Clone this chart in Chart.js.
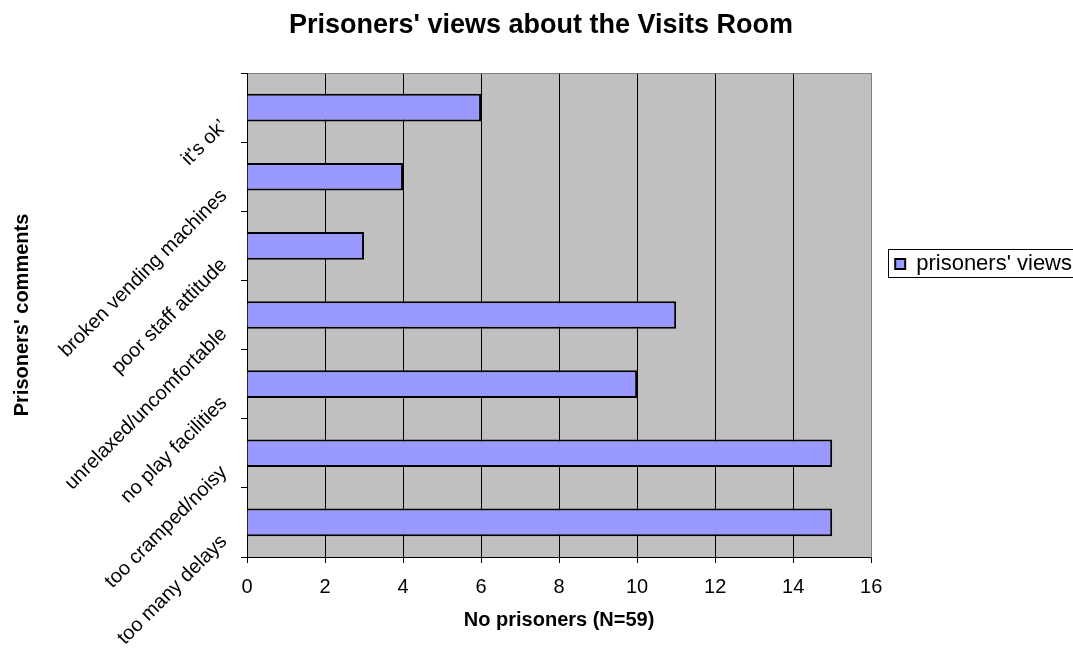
<!DOCTYPE html>
<html>
<head>
<meta charset="utf-8">
<title>Prisoners' views about the Visits Room</title>
<script src="https://cdn.jsdelivr.net/npm/chart.js@4.4.1/dist/chart.umd.min.js"></script>
<style>
  html, body { margin: 0; padding: 0; background: #fff; overflow: hidden; }
  #wrap { width: 1073px; height: 649px; position: relative; }
</style>
</head>
<body>
<div id="wrap"><canvas id="chart"></canvas></div>
<script>
// categories, top to bottom as in the original chart
const comments = [
  "it's ok\u2019",
  "broken vending machines",
  "poor staff attitude",
  "unrelaxed/uncomfortable",
  "no play facilities",
  "too cramped/noisy",
  "too many delays"
];
const prisonerCounts = [6, 4, 3, 11, 10, 15, 15];
const countTicks = [0, 2, 4, 6, 8, 10, 12, 14, 16];
const seriesName = "prisoners' views";

Chart.defaults.font.family = "'Liberation Sans', Arial, sans-serif";
Chart.defaults.color = "#000";

// grey plot area + box around the legend entry
const plotFrame = {
  id: "plotFrame",
  beforeDraw(chart) {
    const { ctx, chartArea: a } = chart;
    ctx.save();
    ctx.fillStyle = "#fff";
    ctx.fillRect(0, 0, chart.width, chart.height);
    ctx.fillStyle = "#c0c0c0";
    ctx.fillRect(a.left, a.top, a.right - a.left, a.bottom - a.top);
    ctx.restore();
  },
  afterDraw(chart) {
    const hb = chart.legend && chart.legend.legendHitBoxes && chart.legend.legendHitBoxes[0];
    if (!hb) return;
    const ctx = chart.ctx;
    ctx.save();
    ctx.strokeStyle = "#000";
    ctx.lineWidth = 1;
    ctx.strokeRect(Math.round(hb.left - 7) + 0.5, Math.round(hb.top - 4) + 0.5, chart.width, 28);
    ctx.restore();
  }
};

new Chart(document.getElementById("chart"), {
  type: "bar",
  data: {
    labels: comments,
    datasets: [{
      label: seriesName,
      data: prisonerCounts,
      backgroundColor: "#9999ff",
      borderColor: "#000",
      borderWidth: 2,
      barPercentage: 0.4,
      categoryPercentage: 1.0
    }]
  },
  options: {
    indexAxis: "y",
    responsive: true,
    maintainAspectRatio: false,
    animation: false,
    layout: { padding: { left: 0, right: -9, top: 0, bottom: 0 } },
    plugins: {
      title: {
        display: true,
        text: "Prisoners' views about the Visits Room",
        font: { size: 27, weight: "bold" },
        color: "#000",
        padding: { top: 9, bottom: 31.6 }
      },
      legend: {
        position: "right",
        align: "start",
        title: { display: true, text: "", font: { size: 10, lineHeight: 1 }, padding: { top: 219, bottom: 0 } },
        labels: {
          boxWidth: 10,
          boxHeight: 10,
          padding: 24,
          font: { size: 22 },
          color: "#000"
        }
      },
      tooltip: { enabled: false }
    },
    scales: {
      x: {
        min: 0,
        max: 16,
        afterBuildTicks: s => { s.ticks = countTicks.map(v => ({ value: v })); },
        afterFit: s => { s.height = 92; },
        grid: {
          color: c => (c.tick && c.tick.value === 16 ? "#808080" : "#000"),
          tickColor: "#000",
          tickLength: 6,
          lineWidth: 1
        },
        border: { color: "#000", width: 1 },
        ticks: { font: { size: 20 }, color: "#000", padding: 12 },
        title: {
          display: true,
          text: "No prisoners (N=59)",
          font: { size: 20, weight: "bold" },
          color: "#000",
          padding: { top: 0, bottom: 17 }
        }
      },
      y: {
        afterFit: s => { s.width = 247; },
        grid: {
          offset: true,
          drawOnChartArea: true,
          color: c => (c.index === 0 ? "#808080" : "rgba(0,0,0,0)"),
          tickColor: "#000",
          tickLength: 6
        },
        border: { color: "#000", width: 1 },
        ticks: {
          autoSkip: false,
          minRotation: 45,
          maxRotation: 45,
          padding: 17,
          labelOffset: 16,
          font: { size: 20 },
          color: "#000"
        },
        title: {
          display: true,
          text: "Prisoners' comments",
          font: { size: 20, weight: "bold" },
          color: "#000",
          padding: { top: 10, bottom: 0 }
        }
      }
    }
  },
  plugins: [plotFrame]
});
</script>
</body>
</html>
